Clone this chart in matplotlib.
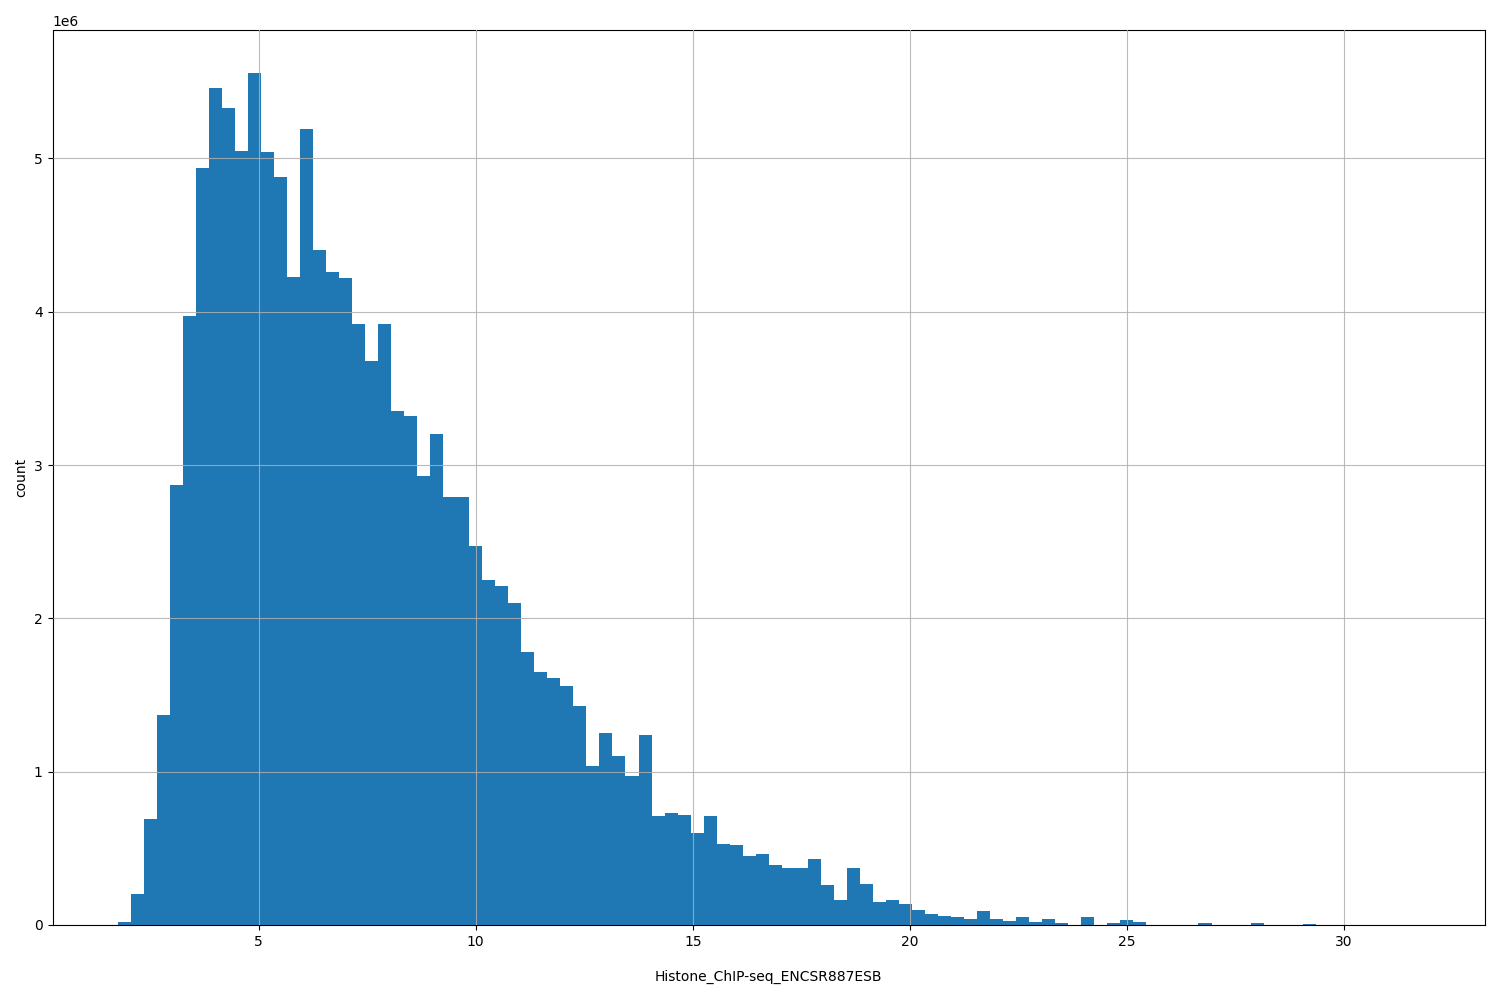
import numpy as np
import matplotlib.pyplot as plt

# bar heights in millions, 100 bins from 1.75 to 31.75
counts_m = [0.02, 0.2, 0.69, 1.37, 2.87, 3.97, 4.94, 5.46, 5.33, 5.05,
            5.56, 5.04, 4.88, 4.23, 5.19, 4.40, 4.26, 4.22, 3.92, 3.68,
            3.92, 3.35, 3.32, 2.93, 3.20, 2.79, 2.79, 2.47, 2.25, 2.21,
            2.10, 1.78, 1.65, 1.61, 1.56, 1.43, 1.04, 1.25, 1.10, 0.97,
            1.24, 0.71, 0.73, 0.72, 0.60, 0.71, 0.53, 0.52, 0.45, 0.46,
            0.39, 0.37, 0.37, 0.43, 0.26, 0.16, 0.37, 0.27, 0.15, 0.16,
            0.14, 0.10, 0.07, 0.06, 0.055, 0.04, 0.09, 0.04, 0.025, 0.055,
            0.02, 0.04, 0.01, 0.003, 0.05, 0.0, 0.01, 0.03, 0.02, 0.0,
            0.0, 0.0, 0.0, 0.015, 0.0, 0.0, 0.0, 0.015, 0.0, 0.0,
            0.0, 0.008, 0.0, 0.0, 0.0, 0.0, 0.0, 0.0, 0.0, 0.002]
x_min, x_max = 1.75, 31.75

edges = np.linspace(x_min, x_max, len(counts_m) + 1)
centers = (edges[:-1] + edges[1:]) / 2
weights = np.array(counts_m) * 1e6

fig, ax = plt.subplots(figsize=(15, 10))
ax.hist(centers, bins=edges, weights=weights, color="#1f77b4")
ax.grid(True)
ax.set_axisbelow(False)
for line in ax.get_xgridlines() + ax.get_ygridlines():
    line.set_color("#b0b0b0")
    line.set_alpha(0.85)
ax.set_xlabel("Histone_ChIP-seq_ENCSR887ESB", labelpad=15)
ax.set_ylabel("count")
fig.subplots_adjust(left=0.035, right=0.99, top=0.97, bottom=0.075)
fig.savefig("out.png", dpi=100)
